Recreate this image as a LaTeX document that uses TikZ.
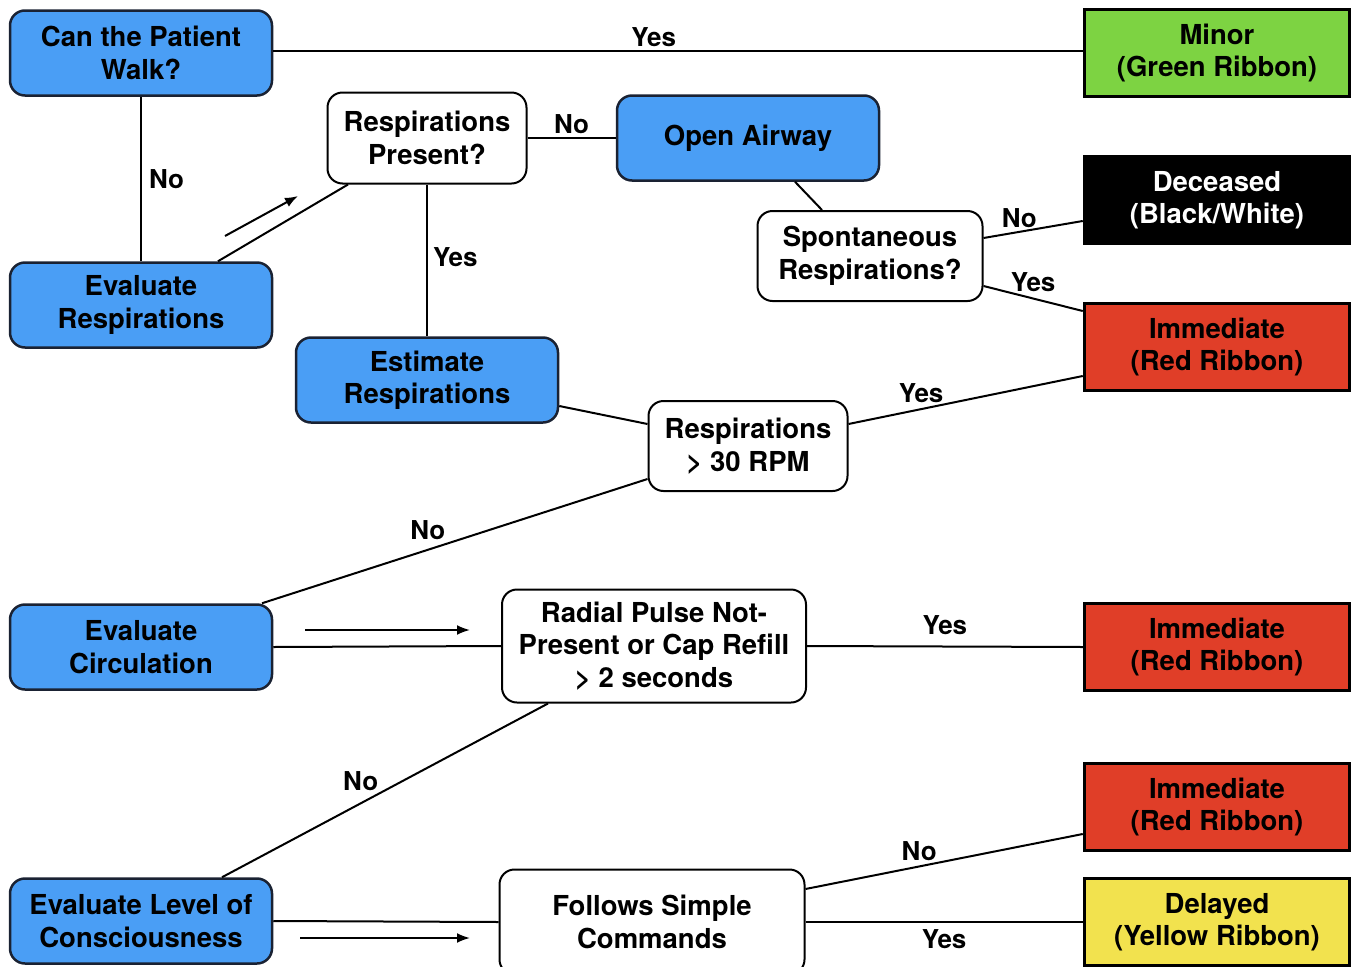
\documentclass[tikz,border=0pt]{standalone}
\usepackage{fontspec}
\setmainfont{TeX Gyre Heros}
\usetikzlibrary{arrows.meta}

\definecolor{skyblue}{HTML}{4A9EF5}
\definecolor{navyline}{HTML}{1A2233}
\definecolor{ribgreen}{HTML}{7DD342}
\definecolor{ribred}{HTML}{E03E28}
\definecolor{ribyellow}{HTML}{F2E24E}

\tikzset{
  bluebox/.style={draw=navyline, line width=2.5pt, fill=skyblue, rounded corners=15pt,
    minimum width=262pt, minimum height=85pt},
  askbox/.style={draw=black, line width=2pt, fill=white, rounded corners=15pt},
  ribbon/.style={draw=black, line width=3.5pt, minimum width=265pt, minimum height=87pt},
  link/.style={line width=2pt},
  hint/.style={line width=2pt, -{Latex[length=13pt,width=10pt]}},
  lbl/.style={font=\fontsize{26}{30}\selectfont\bfseries, inner sep=3pt}
}

\begin{document}
\begin{tikzpicture}[x=1pt, y=-1pt,
  every node/.style={align=center, inner sep=0pt, font=\fontsize{27.5}{32.5}\selectfont\bfseries}]
\useasboundingbox (0,0) rectangle (1353,967);

% left column
\node[bluebox] (walk) at (141,53) {Can the Patient\\Walk?};
\node[bluebox] (evalresp) at (141,305) {Evaluate\\Respirations};
\node[bluebox] (evalcirc) at (141,647) {Evaluate\\Circulation};
\node[bluebox] (evalloc) at (141,921) {Evaluate Level of\\Consciousness};

% questions
\node[askbox, minimum width=199pt, minimum height=91pt] (resppres) at (427,138) {Respirations\\Present?};
\node[bluebox] (airway) at (748,138) {Open Airway};
\node[askbox, minimum width=225pt, minimum height=90pt] (spont) at (870,256) {Spontaneous\\Respirations?};
\node[bluebox] (estresp) at (427,380) {Estimate\\Respirations};
\node[askbox, minimum width=199pt, minimum height=90pt] (resp30) at (748,446) {Respirations\\> 30 RPM};
\node[askbox, minimum width=304pt, minimum height=113pt] (radial) at (654,646) {Radial Pulse Not-\\Present or Cap Refill\\> 2 seconds};
\node[askbox, minimum width=305pt, minimum height=105pt] (follows) at (652,922) {Follows Simple\\Commands};

% ribbons
\node[ribbon, fill=ribgreen] (minor) at (1217,53) {Minor\\(Green Ribbon)};
\node[ribbon, fill=black, text=white] (deceased) at (1217,200) {Deceased\\(Black/White)};
\node[ribbon, fill=ribred] (immed1) at (1217,347) {Immediate\\(Red Ribbon)};
\node[ribbon, fill=ribred] (immed2) at (1217,647) {Immediate\\(Red Ribbon)};
\node[ribbon, fill=ribred] (immed3) at (1217,807) {Immediate\\(Red Ribbon)};
\node[ribbon, fill=ribyellow] (delayed) at (1217,922) {Delayed\\(Yellow Ribbon)};

% connectors
\draw[link] ([yshift=2pt]walk.east) -- node[lbl, pos=.47, above] {Yes} ([yshift=2pt]minor.west);
\draw[link] (walk.south) -- node[lbl, right, xshift=4pt] {No} (evalresp.north);
\draw[link] ([xshift=77pt]evalresp.north) -- ([xshift=-79pt]resppres.south);
\draw[link] (resppres.east) -- node[lbl, above] {No} (airway.west);
\draw[link] (resppres.south) -- node[lbl, pos=.48, right, xshift=2pt] {Yes} (estresp.north);
\draw[link] ([xshift=47pt]airway.south) -- ([xshift=-48pt]spont.north);
\draw[link] ([yshift=18pt]spont.east) -- node[lbl, pos=.36, above] {No} ([yshift=-21pt]deceased.west);
\draw[link] ([yshift=-30pt]spont.east) -- node[lbl, pos=.5, above, yshift=3pt] {Yes} ([yshift=36pt]immed1.west);
\draw[link] ([yshift=-26pt]estresp.east) -- ([yshift=22pt]resp30.west);
\draw[link] ([yshift=22pt]resp30.east) -- node[lbl, pos=.31, above, yshift=2pt] {Yes} ([yshift=-29pt]immed1.west);
\draw[link] ([yshift=-33pt]resp30.west) -- node[lbl, pos=.57, above, yshift=6pt] {No} ([xshift=121pt]evalcirc.north);
\draw[link] (evalcirc.east) -- (radial.west);
\draw[link] (radial.east) -- node[lbl, pos=.5, above, yshift=8pt] {Yes} (immed2.west);
\draw[link] ([xshift=-106pt]radial.south) -- node[lbl, pos=.55, above, yshift=4pt, xshift=-8pt] {No} ([xshift=81pt]evalloc.north);
\draw[link] (evalloc.east) -- (follows.west);
\draw[link] ([yshift=33pt]follows.east) -- node[lbl, pos=.41, above, yshift=2pt] {No} ([yshift=-27pt]immed3.west);
\draw[link] (follows.east) -- node[lbl, pos=.5, below, yshift=-4pt] {Yes} (delayed.west);

% direction hints
\draw[hint] (225,236) -- (298,196);
\draw[hint] (305,630) -- (470,630);
\draw[hint] (300,938) -- (470,938);
\end{tikzpicture}
\end{document}
